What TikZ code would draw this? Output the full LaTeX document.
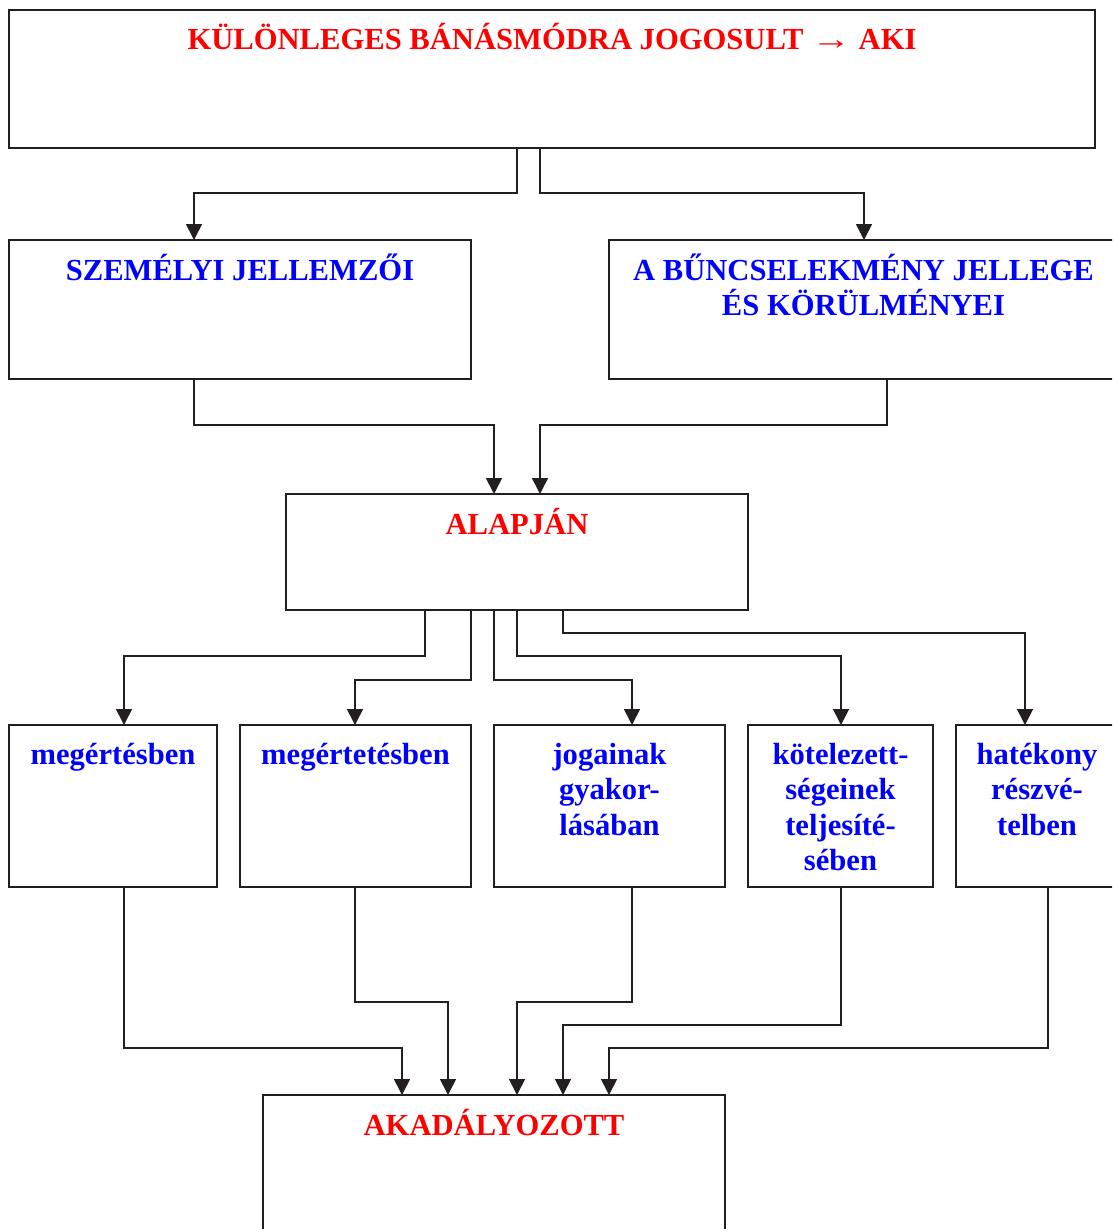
\documentclass[tikz,border=0pt]{standalone}
\usepackage{fontspec}
\setmainfont{Liberation Serif}
\usetikzlibrary{arrows.meta}
\definecolor{linecol}{HTML}{231F20}
\definecolor{redtxt}{RGB}{255,0,0}
\definecolor{bluetxt}{RGB}{0,0,255}
\newcommand{\widearrow}{\scalebox{1.3}[1]{→}}
\begin{document}
\begin{tikzpicture}[x=1pt,y=1pt,
  box/.style={draw=linecol, line width=1.6pt, rectangle, inner sep=0pt, outer sep=0pt, anchor=north west},
  lbl/.style={anchor=base, align=center, inner sep=0pt, font=\fontsize{30.6}{35.6}\selectfont\bfseries},
  redlbl/.style={lbl, text=redtxt},
  bluelbl/.style={lbl, text=bluetxt},
  arr/.style={draw=linecol, line width=1.6pt, -{Triangle[length=16pt,width=16pt]}}]
\useasboundingbox (0,0) rectangle (1112,-1229);
\clip (0,0) rectangle (1112,-1229);
\fill[white] (0,0) rectangle (1112,-1229);

% boxes
\node[box, minimum width=1086pt, minimum height=138pt] (top)  at (9,-10) {};
\node[box, minimum width=462pt,  minimum height=139pt] (szem) at (9,-240) {};
\node[box, minimum width=509pt,  minimum height=139pt] (bunc) at (609,-240) {};
\node[box, minimum width=462pt,  minimum height=116pt] (alap) at (286,-494) {};
\node[box, minimum width=208pt,  minimum height=162pt] (ba)   at (9,-725) {};
\node[box, minimum width=231pt,  minimum height=162pt] (bb)   at (240,-725) {};
\node[box, minimum width=231pt,  minimum height=162pt] (bc)   at (494,-725) {};
\node[box, minimum width=185pt,  minimum height=162pt] (bd)   at (748,-725) {};
\node[box, minimum width=162pt,  minimum height=162pt] (be)   at (956,-725) {};
\node[box, minimum width=462pt,  minimum height=150pt] (akad) at (263,-1095) {};

% labels (the base anchor sits on the last line of each label)
\node[redlbl]  (toplbl)  at ([yshift=-39pt]top.north)  {KÜLÖNLEGES BÁNÁSMÓDRA JOGOSULT \widearrow{} AKI};
\node[bluelbl] (szemlbl) at ([yshift=-40pt]szem.north) {SZEMÉLYI JELLEMZŐI};
\node[bluelbl] (bunclbl) at ([yshift=-75.6pt]bunc.north) {A BŰNCSELEKMÉNY JELLEGE\\ÉS KÖRÜLMÉNYEI};
\node[redlbl]  (alaplbl) at ([yshift=-40pt]alap.north) {ALAPJÁN};
\node[bluelbl] (balbl)   at ([yshift=-39pt]ba.north)   {megértésben};
\node[bluelbl] (bblbl)   at ([yshift=-39pt]bb.north)   {megértetésben};
\node[bluelbl] (bclbl)   at ([yshift=-110.2pt]bc.north)   {jogainak\\gyakor-\\lásában};
\node[bluelbl] (bdlbl)   at ([yshift=-145.8pt]bd.north)   {kötelezett-\\ségeinek\\teljesíté-\\sében};
\node[bluelbl] (belbl)   at ([yshift=-110.2pt]be.north)   {hatékony\\részvé-\\telben};
\node[redlbl]  (akadlbl) at ([yshift=-40pt]akad.north) {AKADÁLYOZOTT};

% connectors: top level
\draw[arr] ([xshift=508pt]top.south west) -- ++(0,-45) -| ([xshift=185pt]szem.north west);
\draw[arr] ([xshift=531pt]top.south west) -- ++(0,-45) -| ([xshift=255pt]bunc.north west);

% connectors: into ALAPJÁN
\draw[arr] ([xshift=185pt]szem.south west) -- ++(0,-46) -| ([xshift=208pt]alap.north west);
\draw[arr] ([xshift=278pt]bunc.south west) -- ++(0,-46) -| ([xshift=254pt]alap.north west);

% connectors: out of ALAPJÁN
\draw[arr] ([xshift=139pt]alap.south west) -- ++(0,-46) -| ([xshift=115pt]ba.north west);
\draw[arr] ([xshift=185pt]alap.south west) -- ++(0,-70) -| ([xshift=115pt]bb.north west);
\draw[arr] ([xshift=208pt]alap.south west) -- ++(0,-70) -| ([xshift=138pt]bc.north west);
\draw[arr] ([xshift=231pt]alap.south west) -- ++(0,-46) -| ([xshift=93pt]bd.north west);
\draw[arr] ([xshift=277pt]alap.south west) -- ++(0,-23) -| ([xshift=69pt]be.north west);

% connectors: into AKADÁLYOZOTT
\draw[arr] ([xshift=115pt]ba.south west) -- ++(0,-161) -| ([xshift=139pt]akad.north west);
\draw[arr] ([xshift=115pt]bb.south west) -- ++(0,-115) -| ([xshift=185pt]akad.north west);
\draw[arr] ([xshift=138pt]bc.south west) -- ++(0,-115) -| ([xshift=254pt]akad.north west);
\draw[arr] ([xshift=93pt]bd.south west)  -- ++(0,-138) -| ([xshift=300pt]akad.north west);
\draw[arr] ([xshift=92pt]be.south west)  -- ++(0,-161) -| ([xshift=346pt]akad.north west);
\end{tikzpicture}
\end{document}
